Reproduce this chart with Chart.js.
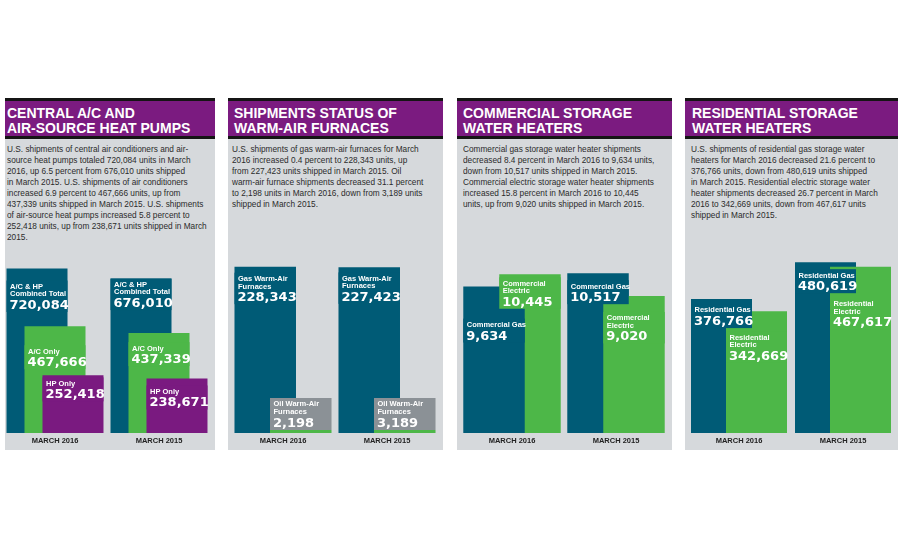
<!DOCTYPE html>
<html>
<head>
<meta charset="utf-8">
<script src="https://cdn.jsdelivr.net/npm/chart.js@4.4.1/dist/chart.umd.min.js"></script>
<style>
html, body { margin: 0; padding: 0; background: #fff; }
#page { position: relative; width: 900px; height: 550px; overflow: hidden; font-family: "Liberation Sans", Arial, sans-serif; }
.panel { position: absolute; top: 98px; height: 352px; background: #d6d9dc; }
.hd { background: #7b1b80; border-top: 3px solid #151515; border-bottom: 3px solid #151515; height: 35px; }
.hd h2 { margin: 0; padding-top: 4.5px; color: #fff; font: bold 14px/15px "Liberation Sans", Arial, sans-serif; white-space: nowrap; }
/* condensed look of the printed body copy */
.tx { margin-top: 0; margin-bottom: 0; padding-top: 4.6px; color: #2b2b2b; font: 9.3px/11px "Liberation Sans", Arial, sans-serif;
      white-space: nowrap; transform: scaleX(0.89); transform-origin: 0 0; }
.box { position: absolute; top: 240px; width: 208px; height: 210px; }
</style>
</head>
<body>
<div id="page">
  <div class="panel" style="left:5px;width:210px">
    <div class="hd"><h2 style="padding-left:2px">CENTRAL A/C AND<br>AIR-SOURCE HEAT PUMPS</h2></div>
    <p class="tx" style="margin-left:2px">U.S. shipments of central air conditioners and air-<br>source heat pumps totaled 720,084 units in March<br>2016, up 6.5 percent from 676,010 units shipped<br>in March 2015. U.S. shipments of air conditioners<br>increased 6.9 percent to 467,666 units, up from<br>437,339 units shipped in March 2015. U.S. shipments<br>of air-source heat pumps increased 5.8 percent to<br>252,418 units, up from 238,671 units shipped in March<br>2015.</p>
  </div>
  <div class="panel" style="left:228px;width:215px">
    <div class="hd"><h2 style="padding-left:6px">SHIPMENTS STATUS OF<br>WARM-AIR FURNACES</h2></div>
    <p class="tx" style="margin-left:4px">U.S. shipments of gas warm-air furnaces for March<br>2016 increased 0.4 percent to 228,343 units, up<br>from 227,423 units shipped in March 2015. Oil<br>warm-air furnace shipments decreased 31.1 percent<br>to 2,198 units in March 2016, down from 3,189 units<br>shipped in March 2015.</p>
  </div>
  <div class="panel" style="left:457px;width:215px">
    <div class="hd"><h2 style="padding-left:6px">COMMERCIAL STORAGE<br>WATER HEATERS</h2></div>
    <p class="tx" style="margin-left:6px">Commercial gas storage water heater shipments<br>decreased 8.4 percent in March 2016 to 9,634 units,<br>down from 10,517 units shipped in March 2015.<br>Commercial electric storage water heater shipments<br>increased 15.8 percent in March 2016 to 10,445<br>units, up from 9,020 units shipped in March 2015.</p>
  </div>
  <div class="panel" style="left:685px;width:213px">
    <div class="hd"><h2 style="padding-left:7px">RESIDENTIAL STORAGE<br>WATER HEATERS</h2></div>
    <p class="tx" style="margin-left:6px">U.S. shipments of residential gas storage water<br>heaters for March 2016 decreased 21.6 percent to<br>376,766 units, down from 480,619 units shipped<br>in March 2015. Residential electric storage water<br>heater shipments decreased 26.7 percent in March<br>2016 to 342,669 units, down from 467,617 units<br>shipped in March 2015.</p>
  </div>

  <div class="box" style="left:3px"><canvas id="acChart"></canvas></div>
  <div class="box" style="left:231px"><canvas id="furnaceChart"></canvas></div>
  <div class="box" style="left:460px"><canvas id="commChart"></canvas></div>
  <div class="box" style="left:687px"><canvas id="resChart"></canvas></div>
</div>

<script>
// ===== Data =====
const months = ['MARCH 2016', 'MARCH 2015'];

const acCombined = [720084, 676010];
const acOnly = [467666, 437339];
const hpOnly = [252418, 238671];

const gasFurnaces = [228343, 227423];
const oilFurnaces = [2198, 3189];

const commGas = [9634, 10517];
const commElectric = [10445, 9020];

const resGas = [376766, 480619];
const resElectric = [342669, 467617];

// value axis tops (no ticks shown)
const acMax = 845000;
const furnaceMax = 265000;
const commMax = 12700;
const resMax = 543000;

const TEAL = '#005b76';
const GREEN = '#4db748';
const PURPLE = '#7a1a80';
const OIL_GRAY = '#8b9196';

// bars of one month, tallest first
function barsAt(chart, i) {
  const bars = chart.data.datasets.map((ds, d) => ({ ds, el: chart.getDatasetMeta(d).data[i] }));
  return bars.sort((a, b) => a.el.y - b.el.y);
}

// ===== Plugin: shorter bars in front, label boxes at the top of each bar =====
const overlapLabels = {
  id: 'overlapLabels',
  beforeDatasetsDraw(chart) {
    const ctx = chart.ctx;
    chart.data.labels.forEach((lbl, i) => {
      barsAt(chart, i).forEach(b => b.el.draw(ctx));
    });
    return false; // skip the default drawing order
  },
  afterDraw(chart) {
    const ctx = chart.ctx;
    ctx.save();
    ctx.textAlign = 'left';
    ctx.textBaseline = 'alphabetic';
    chart.data.labels.forEach((lbl, i) => {
      barsAt(chart, i).forEach(b => {
        const { x, y, width } = b.el.getProps(['x', 'y', 'width'], true);
        const left = x - width / 2;
        const lines = b.ds.tag;
        const drop = b.ds.drop[i];
        const top = y + drop;
        const valBase = top + (lines.length - 1) * 7.5 + 18;
        const boxTop = top - 3;
        const boxBottom = drop < 0 ? y : valBase + 3;
        ctx.fillStyle = b.ds.boxColor || b.ds.backgroundColor;
        ctx.fillRect(left, boxTop, width, boxBottom - boxTop);
        ctx.fillStyle = '#fff';
        ctx.font = 'bold 7.5px "Liberation Sans", Arial, sans-serif';
        lines.forEach((t, k) => ctx.fillText(t, left + 3.5, top + k * 7.5 + 5.4));
        ctx.font = 'bold 13px "DejaVu Sans", sans-serif';
        ctx.fillText(b.ds.data[i].toLocaleString('en-US'), left + 3, valBase);
      });
    });
    ctx.restore();
  }
};

function makeChart(id, datasets, max, catPct, barPct) {
  const ctx = document.getElementById(id).getContext('2d');
  return new Chart(ctx, {
    type: 'bar',
    data: { labels: months, datasets: datasets },
    options: {
      responsive: true,
      maintainAspectRatio: false,
      animation: false,
      layout: { padding: { top: 0, bottom: 2, left: 0, right: 0 } },
      datasets: { bar: { categoryPercentage: catPct, barPercentage: barPct } },
      scales: {
        x: {
          grid: { display: false, drawTicks: false },
          border: { display: false },
          ticks: {
            color: '#222',
            padding: 3,
            font: { family: '"Liberation Sans", Arial, sans-serif', size: 7.5, weight: 'bold' }
          }
        },
        y: { display: false, min: 0, max: max }
      },
      plugins: { legend: { display: false }, tooltip: { enabled: false } }
    },
    plugins: [overlapLabels]
  });
}

document.addEventListener('DOMContentLoaded', () => {
  makeChart('acChart', [
    { data: acCombined, backgroundColor: TEAL, tag: ['A/C & HP', 'Combined Total'], drop: [15, 3] },
    { data: acOnly, backgroundColor: GREEN, tag: ['A/C Only'], drop: [22, 12] },
    { data: hpOnly, backgroundColor: PURPLE, tag: ['HP Only'], drop: [5, 10] }
  ], acMax, 0.519, 3.39);

  makeChart('furnaceChart', [
    { data: gasFurnaces, backgroundColor: TEAL, tag: ['Gas Warm-Air', 'Furnaces'], drop: [9, 8] },
    { data: oilFurnaces, backgroundColor: GREEN, boxColor: OIL_GRAY, minBarLength: 3,
      tag: ['Oil Warm-Air', 'Furnaces'], drop: [-29, -29] }
  ], furnaceMax, 0.683, 1.732);

  makeChart('commChart', [
    { data: commGas, backgroundColor: TEAL, tag: ['Commercial Gas'], drop: [35, 10] },
    { data: commElectric, backgroundColor: GREEN, tag: ['Commercial', 'Electric'], drop: [6, 19] }
  ], commMax, 0.692, 1.708);

  makeChart('resChart', [
    { data: resGas, backgroundColor: TEAL, tag: ['Residential Gas'], drop: [8, 10] },
    { data: resElectric, backgroundColor: GREEN, tag: ['Residential', 'Electric'], drop: [23, 34] }
  ], resMax, 0.673, 1.743);
});
</script>
</body>
</html>
